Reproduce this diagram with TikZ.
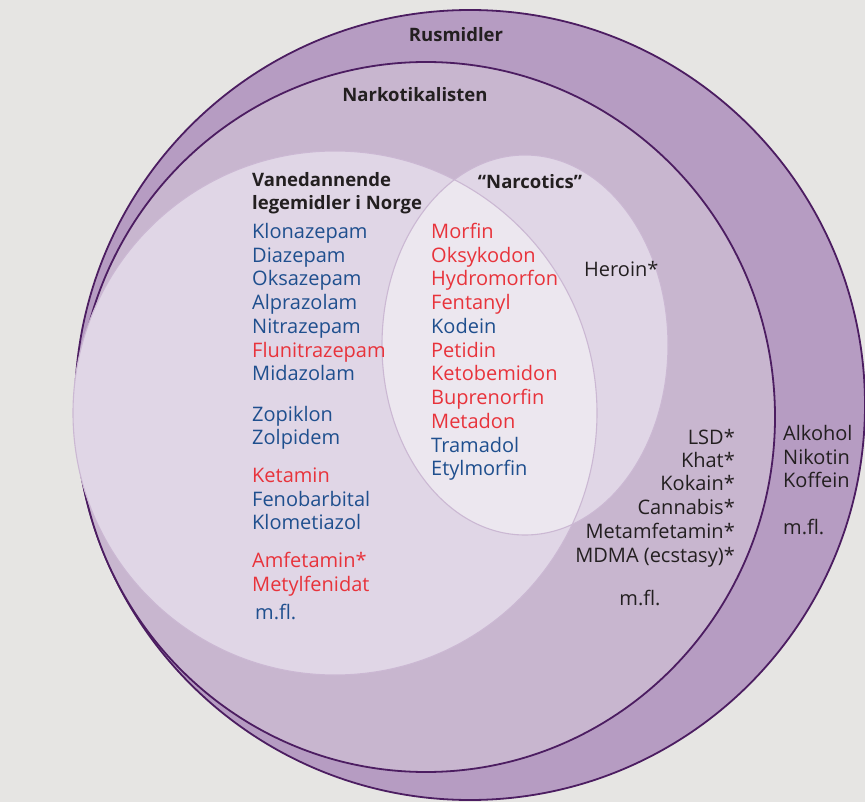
\documentclass[tikz,border=0pt]{standalone}
\usepackage{fontspec}
\setmainfont{Open Sans}
\definecolor{bgrey}{HTML}{E6E5E3}
\definecolor{ring}{HTML}{B69CC2}
\definecolor{nark}{HTML}{C8B6CF}
\definecolor{pale}{HTML}{E0D6E6}
\definecolor{paler}{HTML}{ECE7EF}
\definecolor{rimcol}{HTML}{4C1D61}
\definecolor{softcol}{HTML}{CBB8D3}
\definecolor{ink}{HTML}{231F20}
\definecolor{dblue}{HTML}{1F4F8E}
\definecolor{dred}{HTML}{E8333B}

\begin{document}
\begin{tikzpicture}
[
x=1pt, y=-1pt,
rim/.style={draw=rimcol, line width=1.8pt},
soft/.style={draw=softcol, line width=1.1pt},
item/.style={inner sep=0pt, text height=14pt, text depth=0pt, font=\fontsize{20}{23}\selectfont},
title/.style={item, text height=13pt, text=ink, font=\fontsize{18.5}{22}\selectfont\bfseries},
]

%Frame
\path[use as bounding box, fill=bgrey] (0,0) rectangle (865,802);

%Centres of the sets
\coordinate (rus) at (470,405);
\coordinate (nar) at (426,417);
\coordinate (van) at (335,413);
\coordinate (nts) at (525,345);

%Draw the sets
\path[rim, fill=ring] (rus) circle[radius=395pt];
\path[rim, fill=nark] (nar) ellipse[x radius=349pt, y radius=355pt];
\fill[pale] (van) circle[radius=262pt];
\fill[pale] (nts) ellipse[x radius=143pt, y radius=190pt];
\begin{scope}
\clip (van) circle[radius=262pt];
\fill[paler] (nts) ellipse[x radius=143pt, y radius=190pt];
\end{scope}
\draw[soft] (van) circle[radius=262pt];
\draw[soft] (nts) ellipse[x radius=143pt, y radius=190pt];

%Titles
\node[title] (trus) at (456,35) {Rusmidler};
\node[title] (tnar) at (415,95) {Narkotikalisten};
\node[title, anchor=west] (tvan1) at (252,180) {Vanedannende};
\node[title, anchor=west] (tvan2) at (252,203) {legemidler i Norge};
\node[title] (tnts) at (530,182) {“Narcotics”};

%Habit-forming drugs
\foreach \drug/\col/\y [count=\i] in {Klonazepam/dblue/232, Diazepam/dblue/256,
  Oksazepam/dblue/279, Alprazolam/dblue/303, Nitrazepam/dblue/327,
  Flunitrazepam/dred/350, Midazolam/dblue/374, Zopiklon/dblue/414,
  Zolpidem/dblue/437, Ketamin/dred/475, Fenobarbital/dblue/499,
  Klometiazol/dblue/522, Amfetamin*/dred/560, Metylfenidat/dred/584}
  \node[item, anchor=west, text=\col] (v\i) at (252,\y) {\drug};
\node[item, anchor=west, text=dblue] (vmfl) at (255,612) {m.fl.};

%Overlap
\foreach \drug/\col/\y [count=\i] in {Morfin/dred/232, Oksykodon/dred/256,
  Hydromorfon/dred/279, Fentanyl/dred/303, Kodein/dblue/327, Petidin/dred/350,
  Ketobemidon/dred/374, Buprenorfin/dred/397, Metadon/dred/421,
  Tramadol/dblue/445, Etylmorfin/dblue/468}
  \node[item, anchor=west, text=\col] (o\i) at (431,\y) {\drug};

%Narcotics only
\node[item, anchor=west, text=ink] (heroin) at (584,270) {Heroin*};

%Rest of the list
\foreach \drug/\y [count=\i] in {LSD*/437, Khat*/460, Kokain*/483,
  Cannabis*/507, Metamfetamin*/531, {MDMA (ecstasy)*}/555}
  \node[item, anchor=east, text=ink] (n\i) at (735,\y) {\drug};
\node[item, text=ink] (nmfl) at (640,598) {m.fl.};

%Outer ring
\foreach \drug/\y [count=\i] in {Alkohol/433, Nikotin/457, Koffein/480, m.fl./527}
  \node[item, anchor=west, text=ink] (r\i) at (783,\y) {\drug};
\end{tikzpicture}
\end{document}
